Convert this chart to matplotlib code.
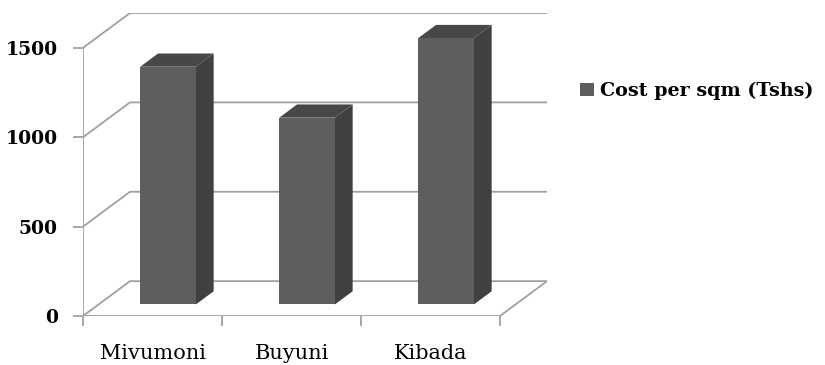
import matplotlib
matplotlib.use("Agg")
import matplotlib.pyplot as plt
from matplotlib.patches import Polygon, Patch

categories = ["Mivumoni", "Buyuni", "Kibada"]
cost_per_sqm = [1330, 1045, 1490]
y_ticks = [0, 500, 1000, 1500]
series_name = "Cost per sqm (Tshs)"

# oblique "3D" look: depth offset of the back wall in data units
DEPTH_X = 0.338
DEPTH_Y = 195.0
BAR_W = 0.4
D0, D1 = 0.33, 0.71

GRID = "#a0a0a0"
FRONT = "#5e5e5e"
SIDE = "#404040"
TOP = "#474747"

plt.rcParams['font.family'] = ['DejaVu Serif']

fig = plt.figure(figsize=(8.25, 3.65), dpi=100)
ax = fig.add_axes([83 / 825, 49 / 365, (547 - 83) / 825, (352 - 49) / 365])
n = len(categories)
x0, x1 = -0.5, n - 0.5
ymax = y_ticks[-1]
ax.set_xlim(x0, x1 + DEPTH_X)
ax.set_ylim(0, ymax + DEPTH_Y)
for s in ax.spines.values():
    s.set_visible(False)


def proj(x, v, d):
    return (x + d * DEPTH_X, v + d * DEPTH_Y)


# walls and gridlines
for v in y_ticks:
    ax.plot(*zip(proj(x0, v, 0), proj(x0, v, 1), proj(x1, v, 1)),
            color=GRID, lw=1.3, zorder=1, solid_capstyle='butt')
ax.plot(*zip(proj(x1, 0, 0), proj(x1, 0, 1)), color=GRID, lw=1.3, zorder=1)
ax.plot([x0, x0], [0, ymax], color=GRID, lw=1.3, zorder=2)
ax.plot([x0, x1], [0, 0], color=GRID, lw=1.3, zorder=2)

# bars
for i, val in enumerate(cost_per_sqm):
    xl, xr = i - BAR_W / 2, i + BAR_W / 2
    front = [proj(xl, 0, D0), proj(xr, 0, D0), proj(xr, val, D0), proj(xl, val, D0)]
    side = [proj(xr, 0, D0), proj(xr, 0, D1), proj(xr, val, D1), proj(xr, val, D0)]
    top = [proj(xl, val, D0), proj(xr, val, D0), proj(xr, val, D1), proj(xl, val, D1)]
    ax.add_patch(Polygon(side, closed=True, facecolor=SIDE, edgecolor='none', zorder=3))
    ax.add_patch(Polygon(top, closed=True, facecolor=TOP, edgecolor='none', zorder=3))
    ax.add_patch(Polygon(front, closed=True, facecolor=FRONT, edgecolor='none', zorder=4))

# ticks
ax.set_yticks(y_ticks)
ax.set_yticklabels([str(t) for t in y_ticks], fontsize=13.5, fontweight='bold')
ax.tick_params(axis='y', length=7, width=1.3, color=GRID, pad=11)
ax.set_xticks([x0 + k for k in range(n + 1)])
ax.set_xticklabels([])
ax.tick_params(axis='x', which='major', length=7, width=1.3, color=GRID)
ax.set_xticks(range(n), minor=True)
ax.set_xticklabels(categories, minor=True, fontsize=15)
ax.tick_params(axis='x', which='minor', length=0, pad=20)

fig.legend(handles=[Patch(facecolor=FRONT, edgecolor='none')], labels=[series_name],
           loc='center left', bbox_to_anchor=(563 / 825, 1 - 91 / 365),
           frameon=False, handlelength=0.7, handleheight=0.7, handletextpad=0.35,
           prop={'family': 'DejaVu Serif', 'weight': 'bold', 'size': 13.8})

fig.savefig("out.png", dpi=100)
